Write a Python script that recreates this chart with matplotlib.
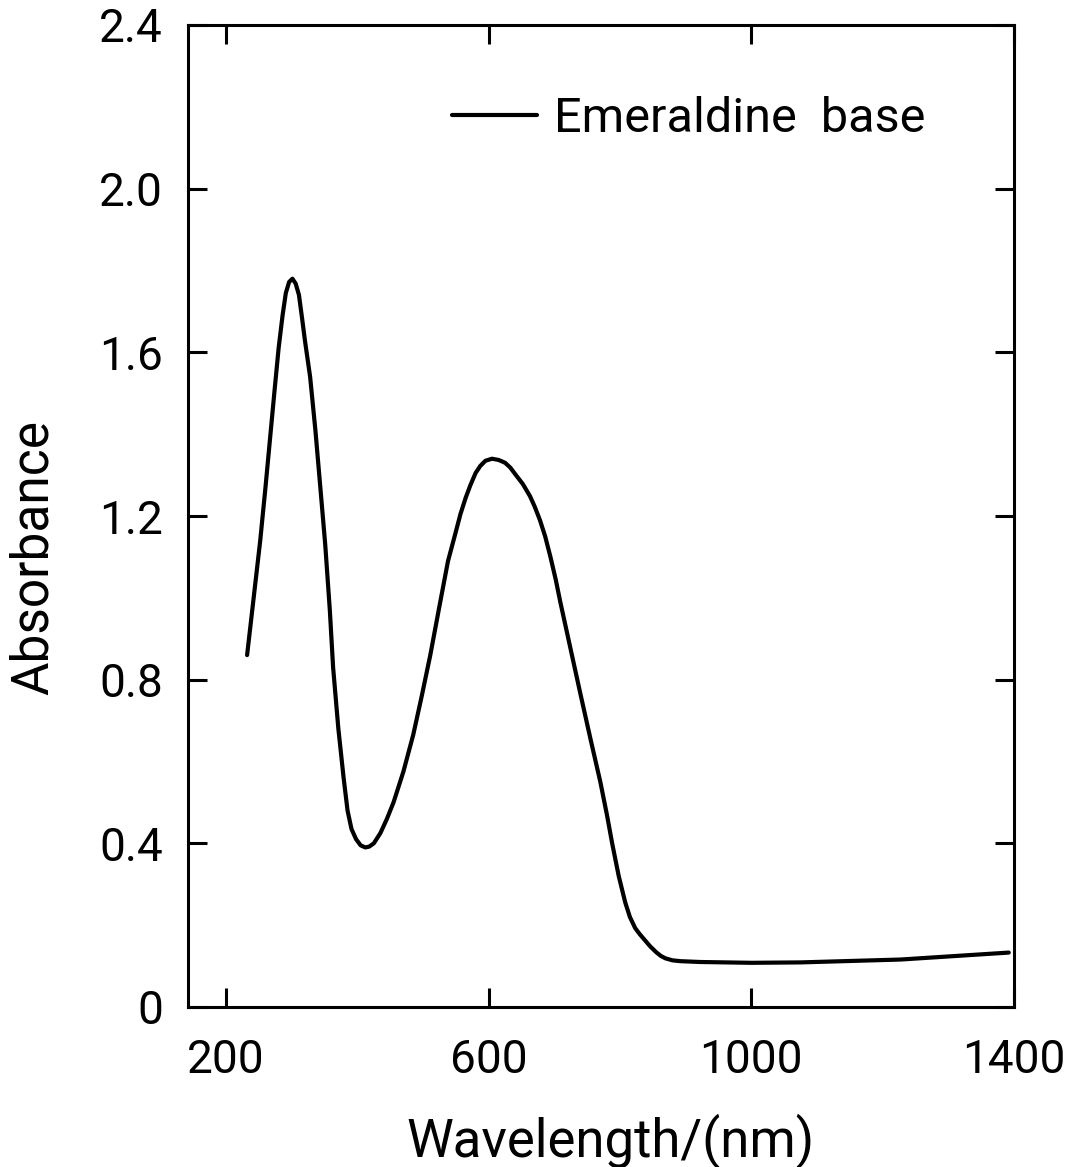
import numpy as np
import matplotlib
matplotlib.use("Agg")
import matplotlib.pyplot as plt

plt.rcParams['font.family'] = ['Roboto', 'DejaVu Sans']

# UV-vis spectrum
wavelength = [232, 242, 252, 260, 267, 274, 280, 286, 291, 296, 301, 306, 311,
              316, 320, 328, 336, 343, 351, 358, 363, 371, 379, 385, 391, 398,
              405, 412, 418, 425, 435, 445, 455, 470, 485, 498, 511, 525, 538,
              548, 557, 565, 572, 580, 587, 595, 605, 615, 625, 633, 640, 652,
              663, 670, 678, 686, 694, 702, 709, 724, 739, 755, 770, 780, 788,
              798, 808, 815, 823, 830, 838, 846, 855, 862, 869, 880, 892, 922,
              1000, 1075, 1227, 1392]
absorbance = [0.86, 1.00, 1.14, 1.27, 1.39, 1.51, 1.61, 1.69, 1.745, 1.772,
              1.78, 1.768, 1.74, 1.68, 1.63, 1.54, 1.41, 1.28, 1.13, 0.97, 0.83,
              0.68, 0.56, 0.48, 0.435, 0.41, 0.395, 0.39, 0.392, 0.40, 0.425,
              0.46, 0.50, 0.575, 0.665, 0.76, 0.86, 0.98, 1.09, 1.15, 1.205,
              1.245, 1.275, 1.305, 1.322, 1.335, 1.34, 1.337, 1.33, 1.318, 1.303,
              1.278, 1.248, 1.223, 1.19, 1.15, 1.10, 1.045, 0.99, 0.88, 0.77,
              0.655, 0.55, 0.47, 0.40, 0.32, 0.255, 0.22, 0.193, 0.178, 0.163,
              0.148, 0.134, 0.125, 0.119, 0.114, 0.112, 0.11, 0.108, 0.109,
              0.116, 0.133]

xticks = [200, 600, 1000, 1400]
yticks = [0, 0.4, 0.8, 1.2, 1.6, 2.0, 2.4]
ytick_labels = ['0', '0.4', '0.8', '1.2', '1.6', '2.0', '2.4']

fig = plt.figure(figsize=(10.70, 11.67), dpi=100)
ax = fig.add_axes([188/1070, 1 - 1007/1167, 826/1070, 982/1167])

ax.plot(wavelength, absorbance, color='black', lw=3.0,
        solid_capstyle='round', label='Emeraldine  base')

ax.set_xlim(142, 1400)
ax.set_ylim(0, 2.4)
ax.set_xticks(xticks)
ax.set_yticks(yticks)
ax.set_yticklabels(ytick_labels)

ax.tick_params(direction='in', length=14, width=2.2, labelsize=33,
               top=True, right=True, pad=22)
ax.tick_params(axis='y', pad=18)
for s in ax.spines.values():
    s.set_linewidth(2.2)

ax.set_xlabel('Wavelength/(nm)', fontsize=38)
ax.xaxis.set_label_coords(0.511, -0.108)
ax.set_ylabel('Absorbance', fontsize=37)
ax.yaxis.set_label_coords(-0.157, 0.458)

ax.legend(loc='upper left', bbox_to_anchor=(0.32, 0.928), frameon=False,
          fontsize=35, handlelength=1.75, handletextpad=0.35, borderpad=0,
          borderaxespad=0)

fig.savefig('out.png', dpi=100)
